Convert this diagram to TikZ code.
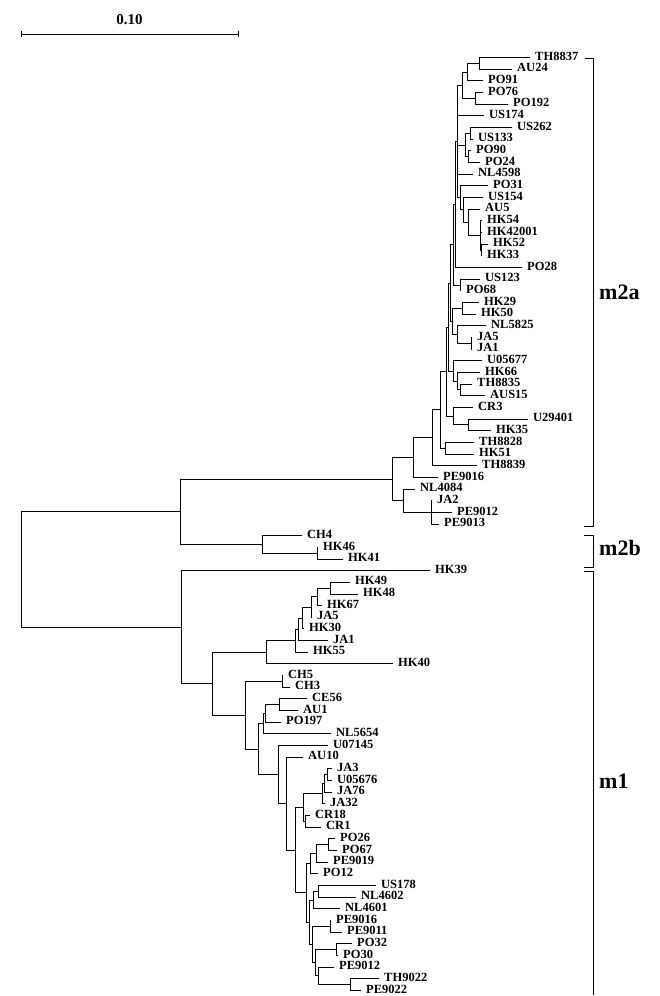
\documentclass[tikz,border=0pt]{standalone}
\usepackage{fontspec}
\setmainfont{Liberation Serif}
\usetikzlibrary{calc}
\tikzset{
  brl/.style={line width=0.9pt, line cap=rect},
  lab/.style={anchor=west, inner sep=0pt, font=\bfseries\fontsize{12.5}{13}\selectfont},
  grp/.style={anchor=west, inner sep=0pt, font=\bfseries\fontsize{22}{24}\selectfont},
}
\newcommand{\lf}[4]{\coordinate (#1) at ({#3-5},{57.6+11.66*#2});
  \node[lab] (#1t) at (#3,{56.2+11.66*#2}) {#4};}
\newcommand{\inode}[4]{\path let \p1=(#3), \p2=(#4) in ({#2pt},{0.5*\y1+0.5*\y2}) coordinate (#1);
  \draw[brl] (#3 -| #1) -- (#4 -| #1);
  \draw[brl] (#3 -| #1) -- (#3);
  \draw[brl] (#4 -| #1) -- (#4);}
\newcommand{\br}[2]{\draw[brl] (#2 -| #1) -- (#2);}
\begin{document}
\begin{tikzpicture}[x=1pt,y=-1pt]
\useasboundingbox (0,0) rectangle (659,996);
% scale bar
\coordinate (sb1) at (21,34);
\coordinate (sb2) at (238,34);
\draw[brl] (sb1) -- (sb2);
\draw[brl] (21,31) -- (21,37);
\draw[brl] (238,31) -- (238,37);
\node[font=\bfseries\fontsize{15}{16}\selectfont, inner sep=0pt] (sbt) at (129.5,20) {0.10};
% leaves m2a
\lf{l0}{0}{535}{TH8837}
\lf{l1}{1}{517}{AU24}
\lf{l2}{2}{488}{PO91}
\lf{l3}{3}{488}{PO76}
\lf{l4}{4}{513}{PO192}
\lf{l5}{5}{489}{US174}
\lf{l6}{6}{517}{US262}
\lf{l7}{7}{478}{US133}
\lf{l8}{8}{476}{PO90}
\lf{l9}{9}{485}{PO24}
\lf{l10}{10}{478}{NL4598}
\lf{l11}{11}{493}{PO31}
\lf{l12}{12}{488}{US154}
\lf{l13}{13}{485}{AU5}
\lf{l14}{14}{487}{HK54}
\lf{l15}{15}{487}{HK42001}
\lf{l16}{16}{493}{HK52}
\lf{l17}{17}{487}{HK33}
\lf{l18}{18}{527}{PO28}
\lf{l19}{19}{485}{US123}
\lf{l20}{20}{466}{PO68}
\lf{l21}{21}{484}{HK29}
\lf{l22}{22}{481}{HK50}
\lf{l23}{23}{491}{NL5825}
\lf{l24}{24}{477}{JA5}
\lf{l25}{25}{477}{JA1}
\lf{l26}{26}{487}{U05677}
\lf{l27}{27}{485}{HK66}
\lf{l28}{28}{477}{TH8835}
\lf{l29}{29}{490}{AUS15}
\lf{l30}{30}{478}{CR3}
\lf{l31}{31}{533}{U29401}
\lf{l32}{32}{496}{HK35}
\lf{l33}{33}{479}{TH8828}
\lf{l34}{34}{479}{HK51}
\lf{l35}{35}{482}{TH8839}
\lf{l36}{36}{443}{PE9016}
\lf{l37}{37}{420}{NL4084}
\lf{l38}{38}{437}{JA2}
\lf{l39}{39}{457}{PE9012}
\lf{l40}{40}{444}{PE9013}
% m2b
\lf{l41}{41}{307}{CH4}
\lf{l42}{42}{323}{HK46}
\lf{l43}{43}{348}{HK41}
% m1
\lf{l44}{44}{435}{HK39}
\lf{l45}{45}{355}{HK49}
\lf{l46}{46}{363}{HK48}
\lf{l47}{47}{327}{HK67}
\lf{l48}{48}{317}{JA5}
\lf{l49}{49}{309}{HK30}
\lf{l50}{50}{333}{JA1}
\lf{l51}{51}{313}{HK55}
\lf{l52}{52}{398}{HK40}
\lf{l53}{53}{288}{CH5}
\lf{l54}{54}{295}{CH3}
\lf{l55}{55}{312}{CE56}
\lf{l56}{56}{303}{AU1}
\lf{l57}{57}{286}{PO197}
\lf{l58}{58}{336}{NL5654}
\lf{l59}{59}{333}{U07145}
\lf{l60}{60}{308}{AU10}
\lf{l61}{61}{337}{JA3}
\lf{l62}{62}{337}{U05676}
\lf{l63}{63}{337}{JA76}
\lf{l64}{64}{330}{JA32}
\lf{l65}{65}{315}{CR18}
\lf{l66}{66}{326}{CR1}
\lf{l67}{67}{340}{PO26}
\lf{l68}{68}{342}{PO67}
\lf{l69}{69}{333}{PE9019}
\lf{l70}{70}{323}{PO12}
\lf{l71}{71}{381}{US178}
\lf{l72}{72}{361}{NL4602}
\lf{l73}{73}{345}{NL4601}
\lf{l74}{74}{336}{PE9016}
\lf{l75}{75}{347}{PE9011}
\lf{l76}{76}{357}{PO32}
\lf{l77}{77}{343}{PO30}
\lf{l78}{78}{339}{PE9012}
\lf{l79}{79}{384}{TH9022}
\lf{l80}{80}{366}{PE9022}
% internal m2a
\inode{ka}{479}{l0}{l1}
\inode{kb}{467}{ka}{l2}
\inode{kc}{475}{l3}{l4}
\inode{kd}{462}{kb}{kc}
\inode{ke}{470}{l6}{l7}
\inode{kf}{468}{l8}{l9}
\inode{kg}{465}{ke}{kf}
\inode{kh}{481}{l16}{l17}
\inode{ki}{480}{l14}{kh}\br{ki}{l15}
\inode{kj}{468}{l13}{ki}
\inode{kk}{463}{l12}{kj}
\inode{kl}{460}{l11}{kk}
\inode{kbb1}{457}{kd}{kl}\br{kbb1}{l5}\br{kbb1}{kg}\br{kbb1}{l10}
\inode{kbb2}{455}{kbb1}{l18}
\inode{km}{460}{l19}{l20}
\inode{kbb3}{453}{kbb2}{km}
\inode{kn}{462}{l21}{l22}
\inode{ko}{471}{l24}{l25}
\inode{kp}{457}{l23}{ko}
\inode{kq}{452}{kn}{kp}
\inode{kbbt}{450}{kbb3}{kq}
\inode{kr}{460}{l28}{l29}
\inode{ks}{457}{l27}{kr}
\inode{kt}{453}{l26}{ks}
\inode{kxa}{448}{kbbt}{kt}
\inode{ku}{468}{l31}{l32}
\inode{kv}{453}{l30}{ku}
\inode{kga}{446}{kxa}{kv}
\inode{kw}{445}{l33}{l34}
\inode{kfa}{440}{kga}{kw}
\inode{kda}{432}{kfa}{l35}
\inode{kba}{413}{kda}{l36}
\inode{kc2}{431}{l38}{l40}\br{kc2}{l39}
\inode{kca}{403}{l37}{kc2}
\inode{kaa}{392}{kba}{kca}
% m2b
\inode{khk}{317}{l42}{l43}
\inode{km2b}{262}{l41}{khk}
\inode{km2}{180}{kaa}{km2b}
% m1
\inode{mu}{330}{l45}{l46}
\inode{mt}{317}{mu}{l47}
\inode{ms}{311}{mt}{l48}
\inode{mr}{302}{ms}{l49}
\inode{mq}{298}{mr}{l50}
\inode{mp}{295}{mq}{l51}
\inode{mo}{266}{mp}{l52}
\inode{mw}{282}{l53}{l54}
\inode{maa}{279}{l55}{l56}
\inode{mab}{265}{maa}{l57}
\inode{mac}{263}{mab}{l58}
\inode{maj}{327}{l61}{l62}
\inode{mai}{324}{maj}{l63}
\inode{mah}{322}{mai}{l64}
\inode{mak}{305}{l65}{l66}
\inode{mag}{303}{mah}{mak}
\inode{man0}{328}{l67}{l68}
\inode{man}{316}{man0}{l69}
\inode{mam}{310}{man}{l70}
\inode{mao}{318}{l71}{l72}
\inode{map}{313}{mao}{l73}
\inode{maq}{330}{l74}{l75}
\inode{mar}{336}{l76}{l77}
\inode{mas}{350}{l79}{l80}
\inode{mat}{318}{l78}{mas}
\inode{mau}{315}{mar}{mat}
\inode{mav}{312}{maq}{mau}
\inode{maw}{309}{map}{mav}
\inode{mal}{306}{mam}{maw}
\inode{maf}{295}{mag}{mal}
\inode{mae}{286}{l60}{maf}
\inode{mad}{278}{l59}{mae}
\inode{mx}{258}{mac}{mad}
\inode{mv}{245}{mw}{mx}
\inode{mn}{212}{mo}{mv}
\inode{mm}{181}{l44}{mn}
\inode{root}{21}{km2}{mm}
% brackets
\draw[brl] (585,58) -- (593,58) -- (593,526) -- (584,526);
\draw[brl] (584,535) -- (593,535) -- (593,567) -- (584,567);
\draw[brl] (584,571) -- (593,571) -- (593,995);
\node[grp] (g1) at (599,292) {m2a};
\node[grp] (g2) at (599,548) {m2b};
\node[grp] (g3) at (599,781) {m1};
\end{tikzpicture}
\end{document}
